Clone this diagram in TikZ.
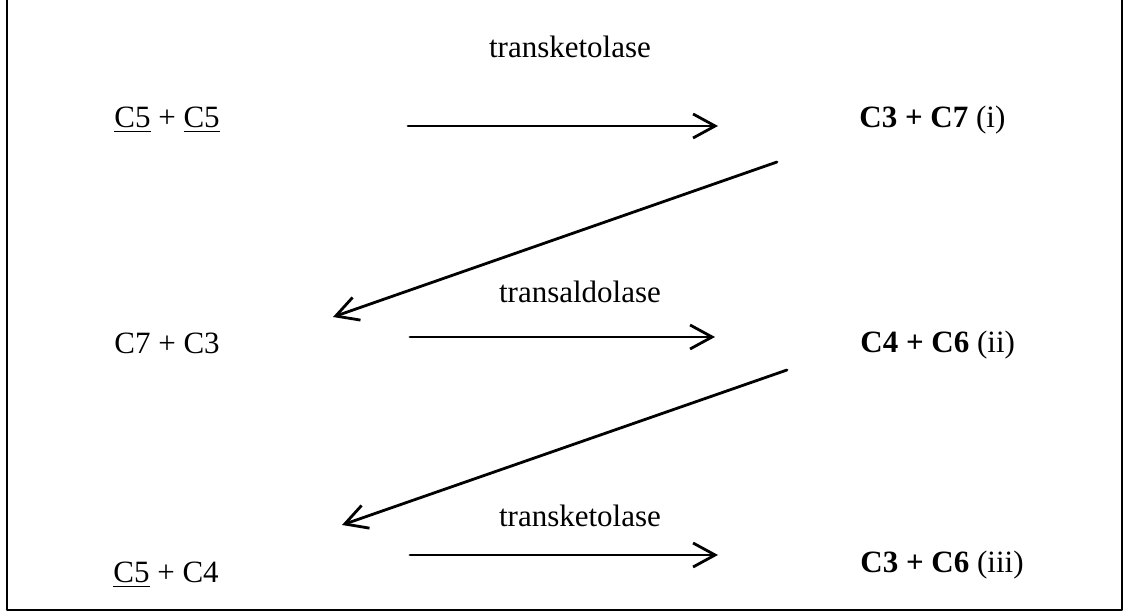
\documentclass[tikz,border=0pt]{standalone}
\usepackage{fontspec}
\setmainfont{Liberation Serif}
\usetikzlibrary{arrows.meta}
\tikzset{
  cpd/.style={inner sep=0pt,anchor=base west},
  enz/.style={inner sep=0pt,anchor=base}
}
\begin{document}
\begin{tikzpicture}[>={Straight Barb[length=11pt,width=12pt]},x=0.5pt,y=-0.5pt,line width=1.4pt,line join=round,line cap=round,font=\fontsize{15.5}{18}\selectfont]
			\useasboundingbox (0,0) rectangle (1126,613);
			\draw (7,0)--(7,610)--(1122,610)--(1122,0);
			\node[cpd] (L1) at (113,128) {\underline{C5} + \underline{C5}};
			\node[cpd] (R1) at (858,128) {\textbf{C3 + C7} (i)};
			\node[cpd] (L2) at (113,354) {C7 + C3};
			\node[cpd] (R2) at (859,353) {\textbf{C4 + C6} (ii)};
			\node[cpd] (L3) at (112,583) {\underline{C5} + C4};
			\node[cpd] (R3) at (859,573) {\textbf{C3 + C6} (iii)};
			\node[enz] (E1) at (570,58) {transketolase};
			\node[enz] (E2) at (580,303) {transaldolase};
			\node[enz] (E3) at (580,527) {transketolase};
			\path (408,126) coordinate (a1) (718,126) coordinate (b1)
			(410,337) coordinate (a2) (715,337) coordinate (b2)
			(410,555) coordinate (a3) (718,555) coordinate (b3)
			(777,162) coordinate (c1) (333,317) coordinate (d1)
			(787,370) coordinate (c2) (342,525) coordinate (d2);
			\draw[->] (a1)--(b1);
			\draw[->] (a2)--(b2);
			\draw[->] (a3)--(b3);
			\draw[->] (c1)--(d1);
			\draw[->] (c2)--(d2);
		\end{tikzpicture}
\end{document}
